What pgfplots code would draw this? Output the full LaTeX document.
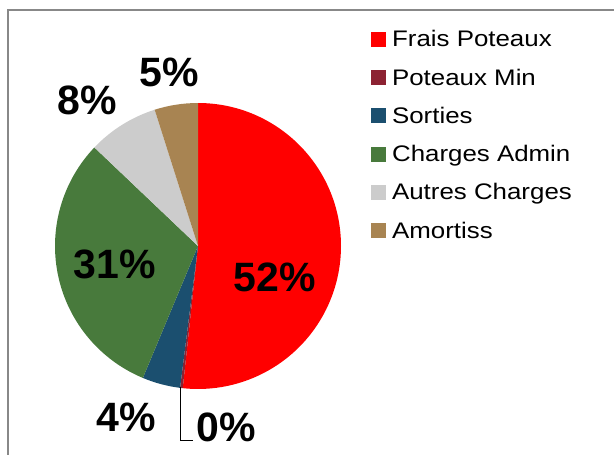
\documentclass[border=0pt]{standalone}
\usepackage{pgfplots}
\usepackage{pgfplotstable}
\pgfplotsset{compat=1.18}
\usepackage{fontspec}
\setmainfont{Liberation Sans}
\newfontfamily\legfont[FakeStretch=1.15]{Liberation Sans}
\definecolor{cFP}{HTML}{FF0000}
\definecolor{cPM}{HTML}{8C2232}
\definecolor{cSO}{HTML}{1B4F6F}
\definecolor{cCA}{HTML}{487A3C}
\definecolor{cAC}{HTML}{CCCCCC}
\definecolor{cAM}{HTML}{A88452}
\definecolor{frame}{HTML}{888888}
\pgfplotstableread{
name value
FraisPoteaux 51.7
PoteauxMin 0.3
Sorties 4.3
ChargesAdmin 30.8
AutresCharges 8.0
Amortiss 4.9
}\piedata
\begin{document}
\begin{tikzpicture}
\pgfplotstablegetelem{0}{value}\of\piedata \pgfmathsetmacro\vA{\pgfplotsretval}
\pgfplotstablegetelem{1}{value}\of\piedata \pgfmathsetmacro\vB{\pgfplotsretval}
\pgfplotstablegetelem{2}{value}\of\piedata \pgfmathsetmacro\vC{\pgfplotsretval}
\pgfplotstablegetelem{3}{value}\of\piedata \pgfmathsetmacro\vD{\pgfplotsretval}
\pgfplotstablegetelem{4}{value}\of\piedata \pgfmathsetmacro\vE{\pgfplotsretval}
\pgfplotstablegetelem{5}{value}\of\piedata \pgfmathsetmacro\vF{\pgfplotsretval}
\pgfmathsetmacro\aA{90}
\pgfmathsetmacro\aB{\aA-3.6*\vA}
\pgfmathsetmacro\aC{\aB-3.6*\vB}
\pgfmathsetmacro\aD{\aC-3.6*\vC}
\pgfmathsetmacro\aE{\aD-3.6*\vD}
\pgfmathsetmacro\aF{\aE-3.6*\vE}
\pgfmathsetmacro\aG{\aF-3.6*\vF}
\begin{axis}[
  x=1bp, y=1bp, xmin=0, xmax=614, ymin=0, ymax=455,
  hide axis, clip=false,
  legend style={at={(axis cs:371,424)}, anchor=north west, draw=none, fill=none,
    inner sep=0pt, outer sep=0pt, row sep=22.6bp, column sep=6.7bp,
    font=\legfont\fontsize{22.5bp}{27bp}\selectfont,
    nodes={inner sep=0pt, outer sep=0pt, text height=15.7bp, text depth=0pt}},
  legend cell align=left,
]
\addlegendimage{legend image code/.code={\fill[cFP] (0bp,-7bp) rectangle (14bp,7bp);}}
\addlegendentry{Frais Poteaux}
\addlegendimage{legend image code/.code={\fill[cPM] (0bp,-7bp) rectangle (14bp,7bp);}}
\addlegendentry{Poteaux Min}
\addlegendimage{legend image code/.code={\fill[cSO] (0bp,-7bp) rectangle (14bp,7bp);}}
\addlegendentry{Sorties}
\addlegendimage{legend image code/.code={\fill[cCA] (0bp,-7bp) rectangle (14bp,7bp);}}
\addlegendentry{Charges Admin}
\addlegendimage{legend image code/.code={\fill[cAC] (0bp,-7bp) rectangle (14bp,7bp);}}
\addlegendentry{Autres Charges}
\addlegendimage{legend image code/.code={\fill[cAM] (0bp,-7bp) rectangle (14bp,7bp);}}
\addlegendentry{Amortiss}
% frame
\draw[frame, line width=2bp] (axis cs:8,-10) -- (axis cs:8,445) -- (axis cs:640,445);
% slices
\fill[cFP] (axis cs:198,209) -- ++(\aA:143bp) arc[start angle=\aA, end angle=\aB, radius=143bp] -- cycle;
\fill[cPM] (axis cs:198,209) -- ++(\aB:143bp) arc[start angle=\aB, end angle=\aC, radius=143bp] -- cycle;
\fill[cSO] (axis cs:198,209) -- ++(\aC:143bp) arc[start angle=\aC, end angle=\aD, radius=143bp] -- cycle;
\fill[cCA] (axis cs:198,209) -- ++(\aD:143bp) arc[start angle=\aD, end angle=\aE, radius=143bp] -- cycle;
\fill[cAC] (axis cs:198,209) -- ++(\aE:143bp) arc[start angle=\aE, end angle=\aF, radius=143bp] -- cycle;
\fill[cAM] (axis cs:198,209) -- ++(\aF:143bp) arc[start angle=\aF, end angle=\aG, radius=143bp] -- cycle;
% labels
\begin{scope}[every node/.style={anchor=base, inner sep=0pt, font=\fontsize{41bp}{41bp}\selectfont\bfseries}]
\node at (axis cs:274.5,164) {52\%};
\node at (axis cs:169,369) {5\%};
\node at (axis cs:87,341) {8\%};
\node at (axis cs:115,177) {31\%};
\node at (axis cs:126,23.3) {4\%};
\node at (axis cs:226,13.3) {0\%};
\end{scope}
\draw[black, line width=1bp] (axis cs:180,68.3) -- (axis cs:180,14) -- (axis cs:192.7,14);
\end{axis}
\pgfresetboundingbox
\useasboundingbox (0,0) rectangle (614bp,455bp);
\end{tikzpicture}
\end{document}
